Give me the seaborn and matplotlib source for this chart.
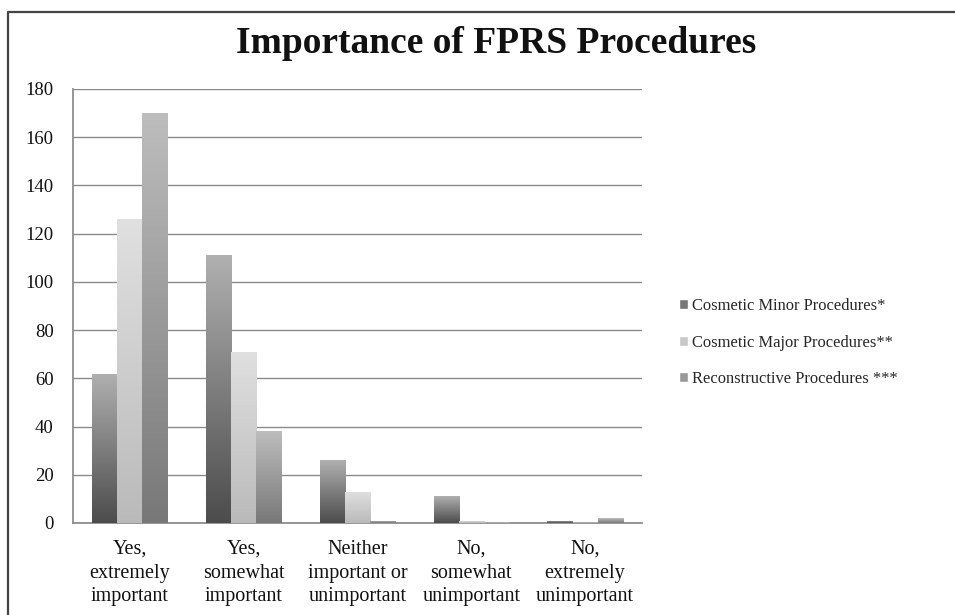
import matplotlib
matplotlib.use("Agg")
import matplotlib.pyplot as plt
from matplotlib.lines import Line2D
from matplotlib.patches import Patch
import numpy as np
import pandas as pd
import seaborn as sns

categories = [
    "Yes,\nextremely\nimportant",
    "Yes,\nsomewhat\nimportant",
    "Neither\nimportant or\nunimportant",
    "No,\nsomewhat\nunimportant",
    "No,\nextremely\nunimportant",
]
series_names = [
    "Cosmetic Minor Procedures*",
    "Cosmetic Major Procedures**",
    "Reconstructive Procedures ***",
]
minor_values = [62, 111, 26, 11, 1]
major_values = [126, 71, 13, 1, 0]
recon_values = [170, 38, 1, 0, 2]
y_ticks = [0, 20, 40, 60, 80, 100, 120, 140, 160, 180]

# bottom / top colour of the gradient for each series
gradients = {
    series_names[0]: ("#4c4c4c", "#b0b0b0"),
    series_names[1]: ("#bababa", "#e0e0e0"),
    series_names[2]: ("#787878", "#bdbdbd"),
}
legend_colors = {
    series_names[0]: "#777777",
    series_names[1]: "#c8c8c8",
    series_names[2]: "#999999",
}


def build_frame() -> pd.DataFrame:
    rows = []
    for name, values in zip(series_names, [minor_values, major_values, recon_values]):
        for cat, val in zip(categories, values):
            rows.append({"category": cat, "series": name, "value": val})
    return pd.DataFrame(rows)


def add_gradient(ax, bar, bottom_color, top_color):
    x, y = bar.get_x(), bar.get_y()
    w, h = bar.get_width(), bar.get_height()
    if h <= 0:
        return
    c0 = np.array(matplotlib.colors.to_rgb(bottom_color))
    c1 = np.array(matplotlib.colors.to_rgb(top_color))
    t = np.linspace(0, 1, 256)[:, None]
    img = (c0 + (c1 - c0) * t)[:, None, :]
    im = ax.imshow(
        img,
        extent=(x, x + w, y, y + h),
        origin="lower",
        aspect="auto",
        zorder=bar.get_zorder() + 0.1,
        interpolation="bilinear",
    )
    im.set_clip_path(bar)
    bar.set_alpha(0)


def main() -> None:
    sns.set_theme(style="white")
    plt.rcParams["font.family"] = ["Liberation Serif", "DejaVu Serif"]

    df = build_frame()
    fig = plt.figure(figsize=(9.55, 6.15), dpi=100)
    ax = fig.add_axes([0.0764, 0.1496, 0.5958, 0.7057])

    sns.barplot(
        data=df,
        x="category",
        y="value",
        hue="series",
        hue_order=series_names,
        order=categories,
        palette=legend_colors,
        width=0.66,
        gap=0,
        ax=ax,
        legend=False,
        zorder=3,
    )

    for container, name in zip(ax.containers, series_names):
        for bar in container:
            add_gradient(ax, bar, *gradients[name])

    ax.set_xlim(-0.5, len(categories) - 0.5)
    ax.set_ylim(0, 180)
    ax.set_yticks(y_ticks)
    ax.yaxis.grid(True, color="#8a8a8a", linewidth=1.0, zorder=0)
    ax.set_axisbelow(True)
    ax.set_xlabel("")
    ax.set_ylabel("")
    for side in ["top", "right"]:
        ax.spines[side].set_visible(False)
    ax.spines["left"].set_color("#8a8a8a")
    ax.spines["bottom"].set_color("#8a8a8a")
    ax.tick_params(axis="y", labelsize=13.5, length=0, pad=14, colors="#111111")
    ax.tick_params(axis="x", labelsize=14.5, length=0, pad=12, colors="#111111")
    for label in ax.get_xticklabels():
        label.set_linespacing(1.35)

    fig.suptitle(
        "Importance of FPRS Procedures",
        fontsize=27,
        fontweight="bold",
        y=0.958,
        x=0.519,
        color="#111111",
    )

    handles = [Patch(facecolor=legend_colors[n], label=n) for n in series_names]
    fig.legend(
        handles=handles,
        loc="center left",
        bbox_to_anchor=(0.711, 0.443),
        frameon=False,
        fontsize=11.9,
        handlelength=0.55,
        handleheight=0.55,
        handletextpad=0.25,
        labelspacing=1.25,
        borderaxespad=0,
        borderpad=0,
    )

    # frame of the original picture: only the left and top edges are visible
    fig.lines.append(
        Line2D([0.0084, 0.0084, 1.0], [0.0, 0.981, 0.981], transform=fig.transFigure,
               color="#444444", linewidth=1.6)
    )

    fig.savefig("out.png", dpi=100)
    plt.close(fig)


if __name__ == "__main__":
    main()
